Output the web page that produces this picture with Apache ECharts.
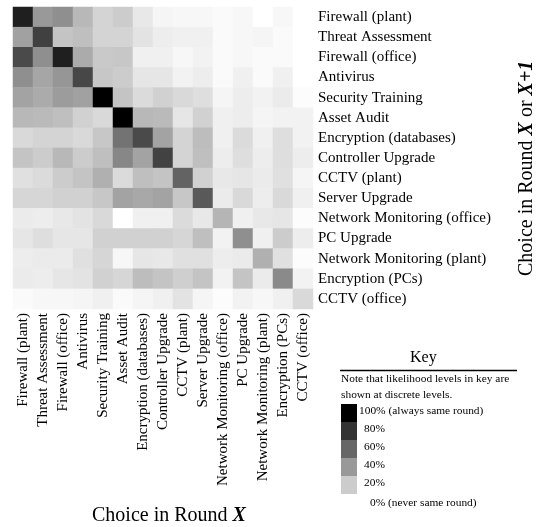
<!DOCTYPE html>
<html>
<head>
<meta charset="utf-8">
<script src="https://cdn.jsdelivr.net/npm/echarts@6/dist/echarts.min.js"></script>
<style>
  html, body { margin: 0; padding: 0; background: #fff; }
  #chart { width: 543px; height: 527px; }
</style>
</head>
<body>
<div id="chart"></div>
<script>
// choices, same order on both axes
const choices = [
  'Firewall (plant)', 'Threat Assessment', 'Firewall (office)', 'Antivirus',
  'Security Training', 'Asset Audit', 'Encryption (databases)', 'Controller Upgrade',
  'CCTV (plant)', 'Server Upgrade', 'Network Monitoring (office)', 'PC Upgrade',
  'Network Monitoring (plant)', 'Encryption (PCs)', 'CCTV (office)'
];

// likelihood (%) that the row choice is made in round X or X+1 given column choice in round X
const likelihood = [
  [88, 40, 44, 28, 17, 20,  9,  4,  3,  3,  2,  3,  0,  3,  0],
  [37, 75, 23, 25, 17, 17, 11,  7,  6,  6,  2,  3,  4,  2,  0],
  [71, 44, 88, 33, 21, 22,  6,  6,  3,  5,  2,  3,  2,  2,  0],
  [44, 35, 41, 72, 22, 20, 10, 10,  5,  7,  2,  6,  2,  6,  0],
  [36, 33, 39, 37,100, 23, 14, 18, 15, 13,  4,  7,  5,  8,  1],
  [28, 27, 25, 18, 15,100, 28, 27, 10, 18,  6,  7,  4,  5,  5],
  [15, 17, 17, 15, 22, 55, 71, 36, 17, 26,  6, 14,  6, 13,  5],
  [23, 20, 28, 20, 25, 47, 36, 74, 17, 25,  7, 13,  7, 13,  7],
  [12, 14, 20, 23, 31, 14, 25, 23, 61, 18,  9, 10,  8, 12,  4],
  [16, 16, 18, 18, 22, 36, 34, 36, 22, 65,  8, 15,  7, 15,  6],
  [ 8,  7,  9, 11, 15,  0,  6,  6, 14,  9, 29,  6,  9, 10,  1],
  [10, 13, 10, 10, 18, 18, 18, 18, 16, 25,  5, 44,  6, 20,  7],
  [ 7,  8,  8, 12, 16,  3, 10,  9, 12, 12,  7,  8, 31, 12,  1],
  [ 8,  7, 10, 11, 18, 16, 26, 23, 19, 23,  5, 23,  8, 46,  5],
  [ 2,  3,  3,  4,  6,  2,  4,  6, 11,  4,  1,  5,  3,  6, 15]
];

// key levels
const keyLevels = [100, 80, 60, 40, 20];
const keyLabels = ['100% (always same round)', '80%', '60%', '40%', '20%'];
const keyZeroLabel = '0% (never same round)';

const serif = '"Liberation Serif", "DejaVu Serif", serif';

let cells = [];
for (let r = 0; r < likelihood.length; r++) {
  for (let c = 0; c < likelihood[r].length; c++) {
    cells.push([c, r, likelihood[r][c]]);
  }
}

function grayOf(v) {
  let g = Math.round(255 * (1 - v / 100));
  return 'rgb(' + g + ',' + g + ',' + g + ')';
}

// key graphics
let keyGraphics = [
  { type: 'text', left: 410, top: 350, style: { text: 'Key', font: '16px ' + serif, fill: '#000' } },
  { type: 'line', shape: { x1: 340, y1: 370.5, x2: 517, y2: 370.5 }, style: { stroke: '#000', lineWidth: 1.5 } },
  { type: 'text', left: 341, top: 374, style: { text: 'Note that likelihood levels in key are', font: '11.4px ' + serif, fill: '#000' } },
  { type: 'text', left: 341, top: 390, style: { text: 'shown at discrete levels.', font: '11.4px ' + serif, fill: '#000' } }
];
for (let i = 0; i < keyLevels.length; i++) {
  let y = 404 + i * 18;
  keyGraphics.push({
    type: 'rect', shape: { x: 341, y: y, width: 16, height: 18 },
    style: { fill: grayOf(keyLevels[i]) }
  });
  keyGraphics.push({
    type: 'text', left: i === 0 ? 359 : 364, top: y + 2,
    style: { text: keyLabels[i], font: '11.4px ' + serif, fill: '#000' }
  });
}
keyGraphics.push({
  type: 'text', left: 370, top: 498,
  style: { text: keyZeroLabel, font: '11.4px ' + serif, fill: '#000' }
});

let option = {
  animation: false,
  backgroundColor: '#fff',
  grid: { left: 13, top: 7, width: 300, height: 302 },
  xAxis: {
    type: 'category',
    data: choices,
    position: 'bottom',
    axisLine: { show: false },
    axisTick: { show: false },
    splitLine: { show: false },
    axisLabel: {
      rotate: 90, margin: 4, interval: 0,
      fontFamily: serif, fontSize: 15, color: '#000'
    }
  },
  yAxis: {
    type: 'category',
    data: choices,
    inverse: true,
    position: 'right',
    axisLine: { show: false },
    axisTick: { show: false },
    splitLine: { show: false },
    axisLabel: {
      margin: 5, interval: 0,
      fontFamily: serif, fontSize: 15, color: '#000'
    }
  },
  visualMap: {
    show: false,
    min: 0,
    max: 100,
    dimension: 2,
    inRange: { color: ['#ffffff', '#000000'] }
  },
  series: [{
    type: 'heatmap',
    data: cells,
    itemStyle: { borderWidth: 0 },
    emphasis: { disabled: true }
  }],
  graphic: [
    {
      type: 'text', left: 92, top: 506,
      style: {
        text: 'Choice in Round {b|X}',
        font: '20px ' + serif, fill: '#000',
        rich: { b: { fontFamily: serif, fontSize: 20, fontWeight: 'bold', fontStyle: 'italic' } }
      }
    },
    {
      type: 'text', x: 517, y: 276, rotation: Math.PI / 2,
      style: {
        text: 'Choice in Round {b|X} or {b|X+1}',
        font: '20px ' + serif, fill: '#000',
        rich: { b: { fontFamily: serif, fontSize: 20, fontWeight: 'bold', fontStyle: 'italic' } }
      }
    }
  ].concat(keyGraphics)
};

let myChart = echarts.init(document.getElementById('chart'));
myChart.setOption(option);
</script>
</body>
</html>
